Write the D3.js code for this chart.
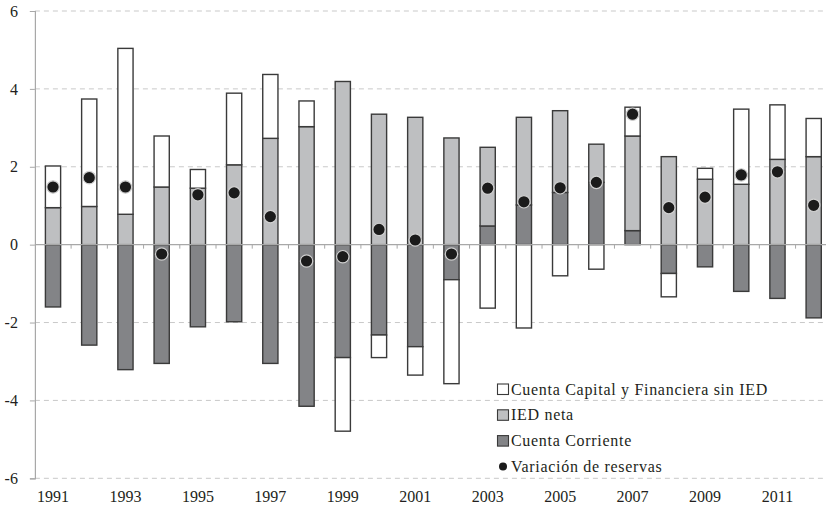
<!DOCTYPE html>
<html>
<head>
<meta charset="utf-8">
<script src="https://cdn.jsdelivr.net/npm/d3@7"></script>
<style>
  body { margin: 0; background: #fff; }
  svg { display: block; }
  text { font-family: "Liberation Serif", "DejaVu Serif", serif; fill: #231f20; }
</style>
</head>
<body>
<div id="chart"></div>
<script>
// datos (% del PIB)
const years = d3.range(1991, 2013).map(String);
const cuentaCorriente = [-1.60, -2.58, -3.21, -3.05, -2.11, -1.98, -3.05, -4.15, -2.90, -2.32, -2.62,
  -0.90, 0.48, 1.02, 1.34, 1.60, 0.36, -0.74, -0.57, -1.20, -1.38, -1.88];
const iedNeta = [0.95, 0.98, 0.78, 1.48, 1.45, 2.05, 2.73, 3.03, 4.19, 3.35, 3.27,
  2.74, 2.02, 2.25, 2.10, 0.98, 2.43, 2.26, 1.68, 1.55, 2.19, 2.26];
const cuentaCapital = [1.07, 2.76, 4.26, 1.31, 0.48, 1.84, 1.64, 0.66, -1.89, -0.58, -0.73,
  -2.67, -1.63, -2.14, -0.80, -0.63, 0.74, -0.60, 0.28, 1.93, 1.40, 0.98];
const variacionReservas = [1.48, 1.72, 1.48, -0.24, 1.28, 1.33, 0.72, -0.42, -0.31, 0.39, 0.12,
  -0.24, 1.45, 1.10, 1.46, 1.60, 3.35, 0.95, 1.22, 1.79, 1.87, 1.01];
const yTicks = [-6, -4, -2, 0, 2, 4, 6];
const xLabels = years.filter((d, i) => i % 2 === 0);

const series = [
  { key: "cc", name: "Cuenta Corriente", values: cuentaCorriente, fill: "#838487" },
  { key: "ied", name: "IED neta", values: iedNeta, fill: "#bebfc1" },
  { key: "cap", name: "Cuenta Capital y Financiera sin IED", values: cuentaCapital, fill: "#ffffff" }
];

const W = 826, H = 509;
const svg = d3.select("#chart").append("svg").attr("width", W).attr("height", H);

const x = d3.scaleBand().domain(years).range([34.9, 831.8]).paddingInner(0.58).paddingOuter(0.29);
const y = d3.scaleLinear().domain([-6, 6]).range([478.3, 11]);

// tabla para d3.stack
const table = years.map((yr, i) => {
  const row = { year: yr };
  series.forEach(s => row[s.key] = s.values[i]);
  return row;
});
const stacked = d3.stack()
  .keys(series.map(s => s.key))
  .offset(d3.stackOffsetDiverging)(table);

// grid
svg.append("g")
  .selectAll("line")
  .data(yTicks.filter(d => d !== 0))
  .join("line")
  .attr("x1", 34.9).attr("x2", W)
  .attr("y1", d => y(d)).attr("y2", d => y(d))
  .attr("stroke", "#c9c9c9")
  .attr("stroke-width", 1)
  .attr("stroke-dasharray", "5,4");

// y axis
const yAxis = svg.append("g")
  .attr("transform", "translate(34.9,0)")
  .call(d3.axisLeft(y).tickValues(yTicks).tickSize(5).tickPadding(12).tickFormat(d3.format("d")));
yAxis.select(".domain").attr("stroke", "#a8a8a8").attr("stroke-width", 1.2);
yAxis.selectAll(".tick line").attr("stroke", "#a8a8a8");
yAxis.selectAll(".tick text").style("font-size", "16px").attr("fill", "#231f20")
  .text(d => d < 0 ? "-" + Math.abs(d) : d);

// bars
const layers = svg.append("g")
  .selectAll("g")
  .data(stacked)
  .join("g")
  .attr("fill", (d, i) => series[i].fill);

layers.selectAll("rect")
  .data(d => d.filter(p => p[1] !== p[0]))
  .join("rect")
  .attr("x", d => x(d.data.year))
  .attr("width", x.bandwidth())
  .attr("y", d => y(Math.max(d[0], d[1])))
  .attr("height", d => Math.abs(y(d[0]) - y(d[1])))
  .attr("stroke", "#3a3a3a")
  .attr("stroke-width", 1.4);

// x axis (zero line) with ticks between categories
const xg = svg.append("g");
xg.append("line")
  .attr("x1", 34.9).attr("x2", W)
  .attr("y1", y(0)).attr("y2", y(0))
  .attr("stroke", "#a8a8a8").attr("stroke-width", 1.4);
xg.selectAll("line.tk")
  .data(years.slice(1))
  .join("line")
  .attr("class", "tk")
  .attr("x1", d => x(d) - x.step() * 0.29)
  .attr("x2", d => x(d) - x.step() * 0.29)
  .attr("y1", y(0)).attr("y2", y(0) + 4)
  .attr("stroke", "#a8a8a8");

// dots
svg.append("g")
  .selectAll("circle")
  .data(years)
  .join("circle")
  .attr("cx", d => x(d) + x.bandwidth() / 2)
  .attr("cy", (d, i) => y(variacionReservas[i]))
  .attr("r", 6.2)
  .attr("fill", "#1b1b1b")
  .attr("stroke", "#d0d0d0")
  .attr("stroke-width", 1.2);

// year labels
svg.append("g")
  .selectAll("text")
  .data(xLabels)
  .join("text")
  .attr("x", d => x(d) + x.bandwidth() / 2)
  .attr("y", 502)
  .attr("text-anchor", "middle")
  .style("font-size", "16px")
  .text(d => d);

// legend
const legendItems = [
  { name: series[2].name, fill: series[2].fill, type: "rect" },
  { name: series[1].name, fill: series[1].fill, type: "rect" },
  { name: series[0].name, fill: series[0].fill, type: "rect" },
  { name: "Variación de reservas", fill: "#1b1b1b", type: "dot" }
];
const legend = svg.append("g").attr("transform", "translate(497,389)");
const li = legend.selectAll("g")
  .data(legendItems)
  .join("g")
  .attr("transform", (d, i) => `translate(0,${i * 25.8})`);
li.filter(d => d.type === "rect").append("rect")
  .attr("x", 0.5).attr("y", -5).attr("width", 11).attr("height", 10.5)
  .attr("fill", d => d.fill).attr("stroke", "#3a3a3a").attr("stroke-width", 1.1);
li.filter(d => d.type === "dot").append("circle")
  .attr("cx", 6).attr("cy", 0).attr("r", 4)
  .attr("fill", d => d.fill);
li.append("text")
  .attr("x", 14).attr("y", 5.5)
  .style("font-size", "16px")
  .style("letter-spacing", "0.7px")
  .text(d => d.name);
</script>
</body>
</html>
